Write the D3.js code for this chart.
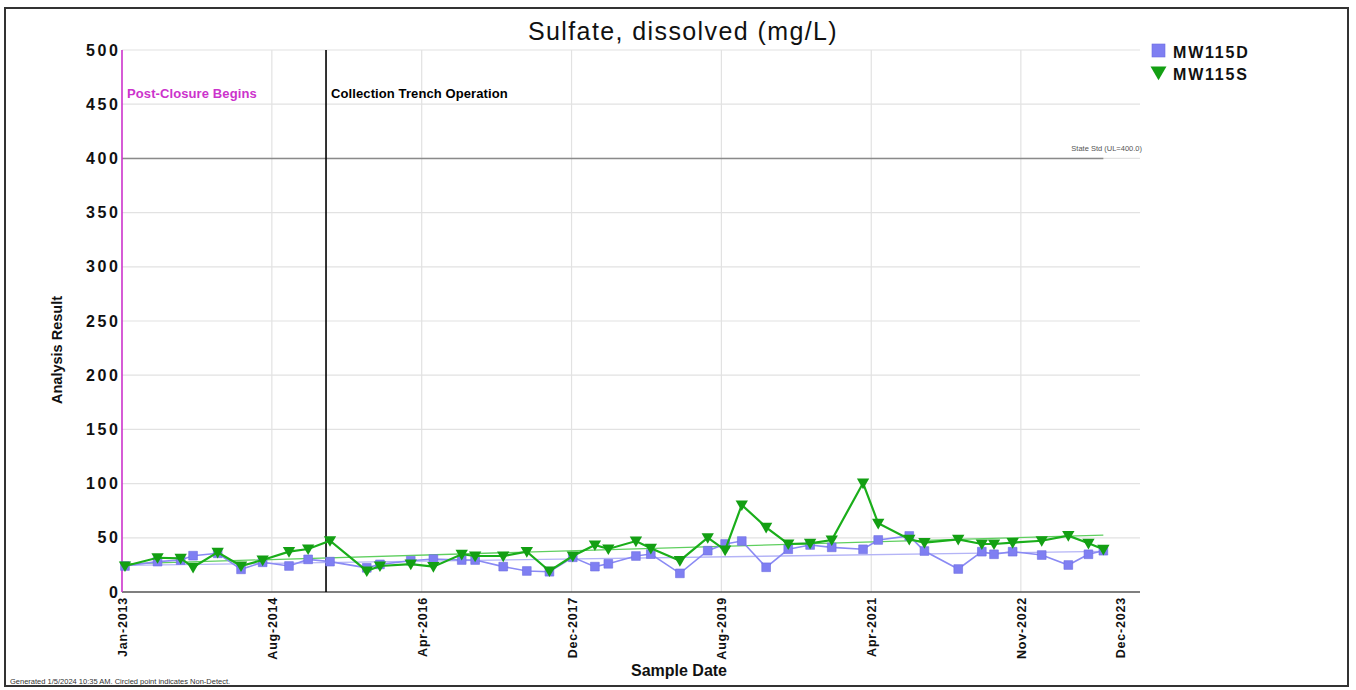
<!DOCTYPE html>
<html>
<head>
<meta charset="utf-8">
<title>Sulfate, dissolved (mg/L)</title>
<script src="https://d3js.org/d3.v7.min.js"></script>
<style>
  body { margin: 0; background: #fff; font-family: "Liberation Sans", Arial, sans-serif; }
  svg text { font-family: "Liberation Sans", Arial, sans-serif; }
</style>
</head>
<body>
<svg id="chart" width="1356" height="690"></svg>
<script>
// sample dates shared by both wells
const sampleDates = [
  "2013-01-13","2013-05-24","2013-08-25","2013-10-14","2014-01-21","2014-04-25","2014-07-21","2014-11-04",
  "2015-01-20","2015-04-18","2015-09-13","2015-11-05","2016-03-08","2016-06-07","2016-09-29","2016-11-22",
  "2017-03-15","2017-06-18","2017-09-17","2017-12-20","2018-03-19","2018-05-12","2018-08-31","2018-10-30",
  "2019-02-24","2019-06-16","2019-08-25","2019-10-31","2020-02-06","2020-05-05","2020-08-01","2020-10-27",
  "2021-03-02","2021-05-02","2021-09-04","2021-11-04","2022-03-20","2022-06-23","2022-08-11","2022-10-25",
  "2023-02-19","2023-06-06","2023-08-26","2023-10-25"
];
const mw115d = [
  24, 28, 29.5, 33.5, 35.7, 20.9, 27.4, 24, 30.1, 28, 22.3, 25.5, 28.9, 30.4, 29.5, 29.5,
  23.4, 19.4, 18.7, 32, 23.4, 26, 33.2, 35, 17.2, 38.1, 44.3, 47, 22.8, 39.4, 43.4, 41.2,
  39.4, 48, 51.7, 37.8, 21.2, 37.2, 34.8, 37.2, 34.1, 24.9, 34.8, 38.1
];
const mw115s = [
  24, 31.6, 31, 22.8, 36.6, 24, 29.5, 37.2, 39.7, 47.3, 19.4, 24, 25.8, 23.4, 34.8, 33.2,
  33.2, 37.2, 19.4, 33.2, 43.4, 39.7, 47, 40.3, 28.9, 50.1, 38.7, 80.3, 59.7, 44.3, 44.9, 48,
  100.5, 63.4, 48.6, 45.5, 48.6, 44.3, 44.3, 45.5, 47.3, 52, 44.9, 39.4
];
// trend lines (start / end values)
const trendDates = ["2013-01-13", "2023-10-25"];
const trendD = [24.5, 37.5];
const trendS = [26, 52.5];

const xTickDates = ["2013-01-01","2014-08-27","2016-04-21","2017-12-15","2019-08-10","2021-04-04","2022-11-27","2023-12-31"];
const yTicks = [0, 50, 100, 150, 200, 250, 300, 350, 400, 450, 500];
const stateStd = 400;
const events = [
  { date: "2013-01-01", label: "Post-Closure Begins", color: "#cc33cc" },
  { date: "2015-04-02", label: "Collection Trench Operation", color: "#000" }
];

const parse = d3.timeParse("%Y-%m-%d");
const fmt = d3.timeFormat("%b-%Y");
const blue = "#7f7ff2", green = "#139f13";

const svg = d3.select("#chart");
const plotL = 122, plotR = 1140, plotT = 50, plotB = 592;

const x = d3.scaleTime().domain([parse("2013-01-01"), parse("2023-12-31")]).range([plotL, 1120]);
const y = d3.scaleLinear().domain([0, 500]).range([plotB, plotT]);

// frame
svg.append("rect").attr("x", 5).attr("y", 8).attr("width", 1343).attr("height", 678)
  .attr("fill", "#fff").attr("stroke", "#333").attr("stroke-width", 2);

// title
svg.append("text").attr("x", 683).attr("y", 40).attr("text-anchor", "middle")
  .attr("font-size", 25).attr("letter-spacing", 1.4).attr("fill", "#111")
  .text("Sulfate, dissolved (mg/L)");

// grid
svg.append("g").selectAll("line").data(yTicks.slice(1)).join("line")
  .attr("x1", plotL).attr("x2", plotR).attr("y1", d => y(d)).attr("y2", d => y(d))
  .attr("stroke", "#e2e2e2").attr("stroke-width", 1.2);
svg.append("g").selectAll("line").data(xTickDates.slice(1, -1)).join("line")
  .attr("x1", d => x(parse(d))).attr("x2", d => x(parse(d))).attr("y1", plotT).attr("y2", plotB)
  .attr("stroke", "#e2e2e2").attr("stroke-width", 1.2);

// state standard
svg.append("line").attr("x1", plotL).attr("x2", x(parse(sampleDates[sampleDates.length - 1])))
  .attr("y1", y(stateStd)).attr("y2", y(stateStd)).attr("stroke", "#8a8a8a").attr("stroke-width", 1.5);
svg.append("text").attr("x", 1142).attr("y", y(stateStd) - 7).attr("text-anchor", "end")
  .attr("font-size", 7.5).attr("fill", "#555").text("State Std (UL=400.0)");

// y axis
const yAxis = svg.append("g").attr("transform", `translate(${plotL},0)`)
  .call(d3.axisLeft(y).tickValues(yTicks).tickSize(0).tickPadding(4));
yAxis.select(".domain").remove();
yAxis.selectAll("text").attr("font-weight", "bold")
  .attr("font-size", 16).attr("letter-spacing", 2.6).attr("fill", "#111").attr("dx", 2.6);

svg.append("text").attr("transform", "translate(62,350) rotate(-90)")
  .attr("text-anchor", "middle").attr("font-size", 14.5).attr("font-weight", "bold").attr("fill", "#111")
  .text("Analysis Result");

// x axis
const xAxis = svg.append("g").attr("transform", `translate(0,${plotB})`)
  .call(d3.axisBottom(x).tickValues(xTickDates.map(parse)).tickFormat(fmt).tickSize(0));
xAxis.select(".domain").remove();
xAxis.selectAll("text")
  .attr("transform", "rotate(-90)").attr("text-anchor", "end")
  .attr("x", -5).attr("y", 0).attr("dy", "0.36em")
  .attr("font-size", 12.5).attr("font-weight", "bold").attr("letter-spacing", 0.8).attr("fill", "#111");
svg.append("line").attr("x1", plotL).attr("x2", plotR).attr("y1", plotB).attr("y2", plotB)
  .attr("stroke", "#555").attr("stroke-width", 1.5);

svg.append("text").attr("x", 679).attr("y", 676).attr("text-anchor", "middle")
  .attr("font-size", 16).attr("font-weight", "bold").attr("fill", "#111").text("Sample Date");

// event lines
events.forEach(ev => {
  const ex = x(parse(ev.date));
  svg.append("line").attr("x1", ex).attr("x2", ex).attr("y1", plotT).attr("y2", plotB)
    .attr("stroke", ev.color).attr("stroke-width", 1.6);
  svg.append("text").attr("x", ex + 5).attr("y", 98).attr("font-size", 13).attr("font-weight", "bold")
    .attr("letter-spacing", 0.1).attr("fill", ev.color).text(ev.label);
});

// trend lines
const tline = d3.line().x(d => x(d[0])).y(d => y(d[1]));
svg.append("path").attr("d", tline(trendDates.map((d, i) => [parse(d), trendD[i]])))
  .attr("fill", "none").attr("stroke", "#b4b4f6").attr("stroke-width", 1.3);
svg.append("path").attr("d", tline(trendDates.map((d, i) => [parse(d), trendS[i]])))
  .attr("fill", "none").attr("stroke", "#5fcf5f").attr("stroke-width", 1.3);

// series
const line = d3.line().x(d => x(d.date)).y(d => y(d.v));
const dD = sampleDates.map((d, i) => ({ date: parse(d), v: mw115d[i] }));
const dS = sampleDates.map((d, i) => ({ date: parse(d), v: mw115s[i] }));

svg.append("path").attr("d", line(dD)).attr("fill", "none").attr("stroke", "#8a8af4").attr("stroke-width", 1.6);
svg.append("g").selectAll("path").data(dD).join("path")
  .attr("transform", d => `translate(${x(d.date)},${y(d.v)})`)
  .attr("d", d3.symbol(d3.symbolSquare, 76)).attr("fill", blue).attr("stroke", "#6c6ce0").attr("stroke-width", 0.6);

svg.append("path").attr("d", line(dS)).attr("fill", "none").attr("stroke", "#1aae1a").attr("stroke-width", 2.2);
svg.append("g").selectAll("path").data(dS).join("path")
  .attr("transform", d => `translate(${x(d.date)},${y(d.v) - 1}) rotate(180)`)
  .attr("d", d3.symbol(d3.symbolTriangle, 66)).attr("fill", green);

// legend
const lg = svg.append("g").attr("transform", "translate(1152,44)");
lg.append("rect").attr("x", 0).attr("y", 0).attr("width", 13).attr("height", 13)
  .attr("fill", blue).attr("stroke", "#6c6ce0").attr("stroke-width", 0.6);
lg.append("path").attr("transform", "translate(6.5,27) rotate(180)")
  .attr("d", d3.symbol(d3.symbolTriangle, 110)).attr("fill", green);
lg.selectAll("text").data(["MW115D", "MW115S"]).join("text")
  .attr("x", 21).attr("y", (d, i) => 13.5 + i * 22)
  .attr("font-weight", "bold").attr("font-size", 16)
  .attr("letter-spacing", 1.8).attr("fill", "#111").text(d => d);

// footnote
svg.append("text").attr("x", 10).attr("y", 684).attr("font-size", 7.5).attr("fill", "#333")
  .text("Generated 1/5/2024 10:35 AM. Circled point indicates Non-Detect.");
</script>
</body>
</html>
